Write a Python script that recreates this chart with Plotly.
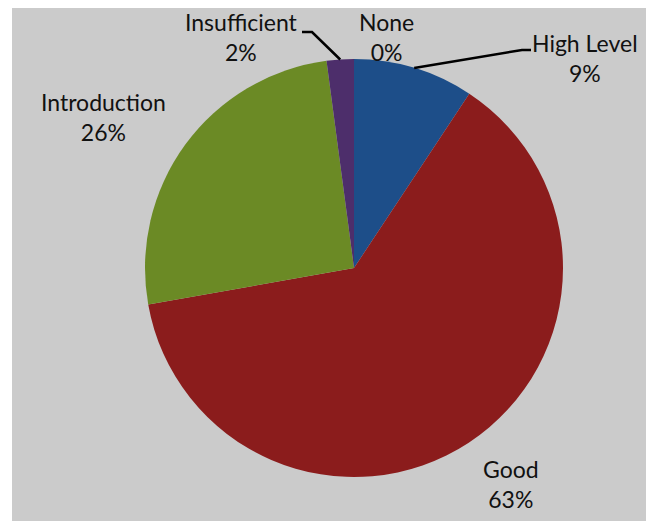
import math
import plotly.graph_objects as go

# ---- data ----
labels = ["High Level", "Good", "Introduction", "Insufficient", "None"]
values = [9.3, 62.9, 25.7, 2.1, 0.0]
colors = ["#1d4e89", "#8b1c1c", "#6b8a25", "#4d2e6b", "#7f7f7f"]

# ---- layout constants (screen pixels; page body adds an 8px offset) ----
OFF = 8
W, H = 654 - OFF, 521 - OFF
CX, CY, R = 354 - OFF, 268 - OFF, 209
label_pos = {  # centre of label block (screen px)
    "High Level": (585, 58),
    "Good": (511, 484),
    "Introduction": (103, 117),
    "Insufficient": (241, 37),
    "None": (386, 37),
}
leaders = {  # label end, bend (screen px)
    "High Level": [(531, 50), (522, 50)],
    "Insufficient": [(302, 32), (312, 32)],
}

total = sum(values)

fig = go.Figure()
fig.add_trace(go.Pie(
    labels=labels, values=values, sort=False, direction="clockwise", rotation=0,
    marker=dict(colors=colors, line=dict(width=0)),
    textinfo="none", hoverinfo="label+percent", showlegend=False,
    domain=dict(x=[(CX - R) / W, (CX + R) / W], y=[1 - (CY + R) / H, 1 - (CY - R) / H]),
))

fig.add_trace(go.Scatter(x=[0, W], y=[0, H], mode="markers", marker=dict(opacity=0),
                         hoverinfo="skip", showlegend=False))

shapes = [dict(type="rect", xref="x", yref="y", x0=12 - OFF, x1=W, y0=0, y1=H,
               fillcolor="#cbcbcb", line=dict(width=0), layer="below")]

annotations = []
cum = 0.0
for lab, v in zip(labels, values):
    mid = (cum + v / 2) / total * 2 * math.pi
    cum += v
    pct = round(v / total * 100)
    lx, ly = label_pos[lab]
    annotations.append(dict(x=lx - OFF, y=ly - OFF, xref="x", yref="y",
                            text=f"{lab}<br>{pct}%", borderpad=0,
                            showarrow=False, xanchor="center", yanchor="middle",
                            font=dict(family="Lato", size=23, color="#111111")))
    if lab in leaders:
        px = CX + R * math.sin(mid)
        py = CY - R * math.cos(mid)
        pts = [(px, py)] + [(a - OFF, b - OFF) for a, b in leaders[lab][::-1]]
        path = "M " + " L ".join(f"{a:.1f},{b:.1f}" for a, b in pts)
        shapes.append(dict(type="path", xref="x", yref="y", path=path,
                           line=dict(color="black", width=2.5), layer="above"))

fig.update_layout(
    width=W, height=H, margin=dict(l=0, r=0, t=0, b=0),
    paper_bgcolor="white", plot_bgcolor="rgba(0,0,0,0)",
    xaxis=dict(range=[0, W], visible=False, fixedrange=True),
    yaxis=dict(range=[H, 0], visible=False, fixedrange=True),
    shapes=shapes, annotations=annotations,
)

fig.write_html("out.html")
